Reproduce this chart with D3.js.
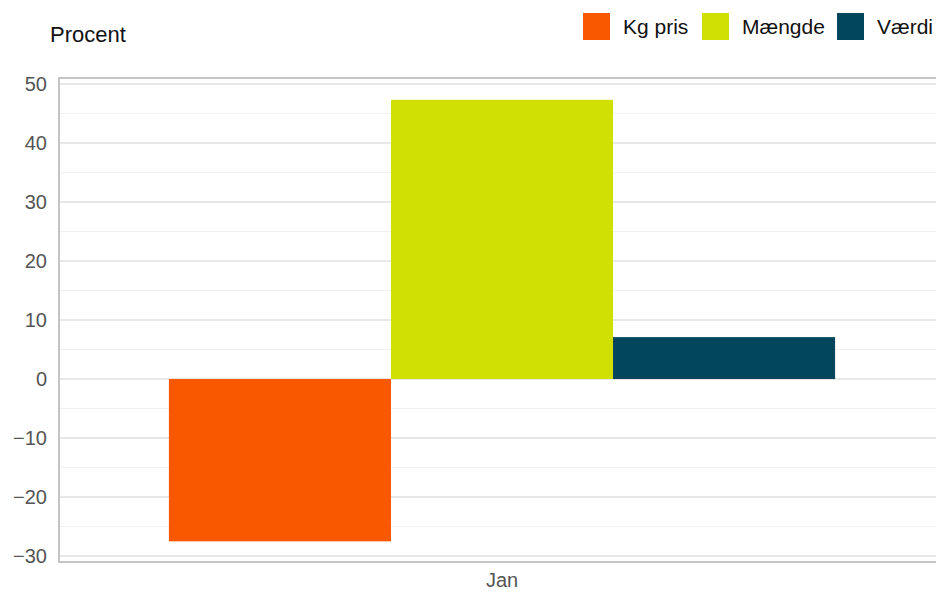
<!DOCTYPE html>
<html>
<head>
<meta charset="utf-8">
<script src="https://cdn.jsdelivr.net/npm/d3@7"></script>
<style>
    body { margin: 0; background: #fff; }
    svg text { font-family: "Liberation Sans", Arial, sans-serif; }
</style>
</head>
<body>
<div id="chart"></div>
<script>
const months = ['Jan'];
const seriesNames = ['Kg pris', 'Mængde', 'Værdi'];
const seriesColors = ['#f95700', '#d0e004', '#02465c'];
const kgPris = [-27.5];
const maengde = [47.3];
const vaerdi = [7.1];
const majorTicks = [50, 40, 30, 20, 10, 0, -10, -20, -30];

const values = [kgPris, maengde, vaerdi];

const width = 936, height = 592;
const margin = { top: 78, right: -9, bottom: 30, left: 59 };

const svg = d3.select('#chart')
    .append('svg')
    .attr('width', width)
    .attr('height', height);

const y = d3.scaleLinear()
    .domain([-31, 51])
    .range([height - margin.bottom, margin.top]);

const x0 = d3.scaleBand()
    .domain(months)
    .range([margin.left, width - margin.right])
    .paddingInner(0)
    .paddingOuter(0.165);

const x1 = d3.scaleBand()
    .domain(seriesNames)
    .range([0, x0.bandwidth()]);

// minor gridlines
svg.append('g')
    .selectAll('line')
    .data(d3.range(-25, 51, 10))
    .enter()
    .append('line')
    .attr('x1', margin.left)
    .attr('x2', width)
    .attr('y1', d => y(d))
    .attr('y2', d => y(d))
    .attr('stroke', '#f0f0f0')
    .attr('stroke-width', 1);

// major gridlines
svg.append('g')
    .selectAll('line')
    .data(majorTicks)
    .enter()
    .append('line')
    .attr('x1', margin.left)
    .attr('x2', width)
    .attr('y1', d => y(d))
    .attr('y2', d => y(d))
    .attr('stroke', '#e8e8e8')
    .attr('stroke-width', 2);

// bars
const groups = svg.append('g')
    .selectAll('g')
    .data(months)
    .enter()
    .append('g')
    .attr('transform', d => `translate(${x0(d)},0)`);

groups.selectAll('rect')
    .data((d, i) => seriesNames.map((s, j) => ({ key: s, value: values[j][i], color: seriesColors[j] })))
    .enter()
    .append('rect')
    .attr('x', d => x1(d.key))
    .attr('width', x1.bandwidth())
    .attr('y', d => y(Math.max(0, d.value)))
    .attr('height', d => Math.abs(y(d.value) - y(0)))
    .attr('fill', d => d.color);

// plot border (top, left, bottom)
svg.append('path')
    .attr('d', `M${width},${margin.top}H${margin.left}V${height - margin.bottom}H${width}`)
    .attr('fill', 'none')
    .attr('stroke', '#b3b3b3')
    .attr('stroke-width', 1.5);

// y axis labels
const yAxis = d3.axisLeft(y)
    .tickValues(majorTicks)
    .tickSize(0)
    .tickPadding(12)
    .tickFormat(d3.format('d'));

svg.append('g')
    .attr('transform', `translate(${margin.left},0)`)
    .call(yAxis)
    .call(g => g.select('.domain').remove())
    .selectAll('text')
    .attr('fill', '#555')
    .attr('font-size', 20)
    .style('font-family', '"Liberation Sans", Arial, sans-serif');

// x axis labels
const xAxis = d3.axisBottom(x0).tickSize(0).tickPadding(11);

svg.append('g')
    .attr('transform', `translate(0,${height - margin.bottom})`)
    .call(xAxis)
    .call(g => g.select('.domain').remove())
    .selectAll('text')
    .attr('fill', '#555')
    .attr('font-size', 20)
    .style('font-family', '"Liberation Sans", Arial, sans-serif');

// y title
svg.append('text')
    .attr('x', 50)
    .attr('y', 42)
    .attr('font-size', 22)
    .attr('fill', '#111')
    .text('Procent');

// legend
const legendX = [583, 702, 837];
const legend = svg.append('g')
    .selectAll('g')
    .data(seriesNames)
    .enter()
    .append('g')
    .attr('transform', (d, i) => `translate(${legendX[i]},13)`);

legend.append('rect')
    .attr('width', 27)
    .attr('height', 27)
    .attr('fill', (d, i) => seriesColors[i]);

legend.append('text')
    .attr('x', 40)
    .attr('y', 21)
    .attr('font-size', 21)
    .attr('fill', '#111')
    .text(d => d);
</script>
</body>
</html>
